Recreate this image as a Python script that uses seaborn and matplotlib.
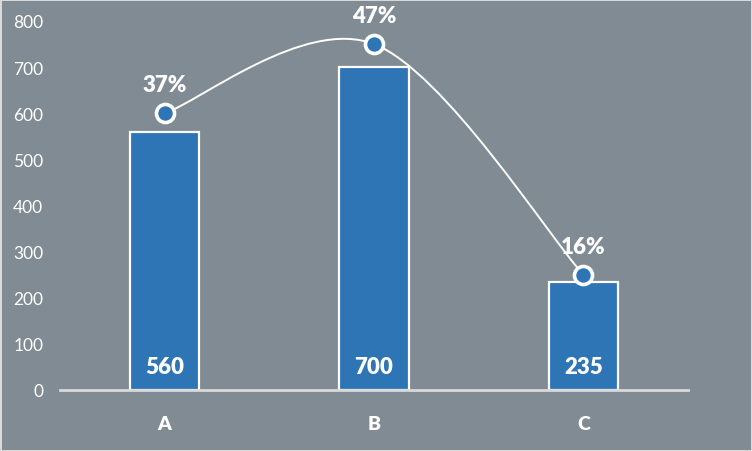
import numpy as np
import pandas as pd
import seaborn as sns
import matplotlib.pyplot as plt
from matplotlib.path import Path
from matplotlib.patches import PathPatch

categories = ['A', 'B', 'C']
values = [560, 700, 235]
share_pos = [600, 750, 250]
share_labels = ['37%', '47%', '16%']
yticks = [0, 100, 200, 300, 400, 500, 600, 700, 800]

bg = '#808B93'
blue = '#2E75B6'

sns.set_style('white')
plt.rcParams['font.family'] = ['Lato', 'DejaVu Sans']

df = pd.DataFrame({'cat': categories, 'val': values})

fig = plt.figure(figsize=(7.52, 4.52), dpi=100, facecolor=bg,
                 edgecolor='#D9D9D9', linewidth=2)
ax = fig.add_axes([60/752, 61/452, 628/752, 369/452])
ax.set_facecolor(bg)

sns.barplot(data=df, x='cat', y='val', color=blue, saturation=1,
            width=0.33, edgecolor='white', linewidth=1.6, ax=ax, zorder=2)

# smooth line through the share points (Catmull-Rom style bezier)
xs = np.arange(len(categories), dtype=float)
ys = np.array(share_pos, dtype=float)
pts = np.column_stack([xs, ys])
verts = [pts[0]]
codes = [Path.MOVETO]
for i in range(len(pts) - 1):
    p0 = pts[max(i - 1, 0)]
    p1 = pts[i]
    p2 = pts[i + 1]
    p3 = pts[min(i + 2, len(pts) - 1)]
    verts += [p1 + (p2 - p0) / 6, p2 - (p3 - p1) / 6, p2]
    codes += [Path.CURVE4] * 3
ax.add_patch(PathPatch(Path(verts, codes), facecolor='none',
                       edgecolor='white', lw=1.4, zorder=3))
ax.plot(xs, ys, ls='none', marker='o', ms=13, mfc=blue, mec='white',
        mew=2.6, zorder=4)

for x, y, s in zip(xs, ys, share_labels):
    ax.text(x, y + 62, s, ha='center', va='center', color='white',
            fontsize=16, fontweight='heavy', zorder=5)

for x, v in zip(xs, values):
    ax.text(x, 52, str(v), ha='center', va='center', color='white',
            fontsize=16, fontweight='heavy', zorder=5)

ax.set_xlim(-0.5, 2.5)
ax.set_ylim(0, 800)
ax.set_yticks(yticks)
ax.set_xlabel('')
ax.set_ylabel('')
ax.tick_params(axis='y', length=0, pad=12, labelsize=12.5, labelcolor='white')
ax.tick_params(axis='x', length=0, pad=18, labelsize=14, labelcolor='white')
for lab in ax.get_xticklabels():
    lab.set_fontweight('heavy')
for side in ['top', 'right', 'left']:
    ax.spines[side].set_visible(False)
ax.spines['bottom'].set_color('#D9D9D9')
ax.spines['bottom'].set_linewidth(2)
ax.grid(False)

fig.savefig('out.png', dpi=100, facecolor=bg)
